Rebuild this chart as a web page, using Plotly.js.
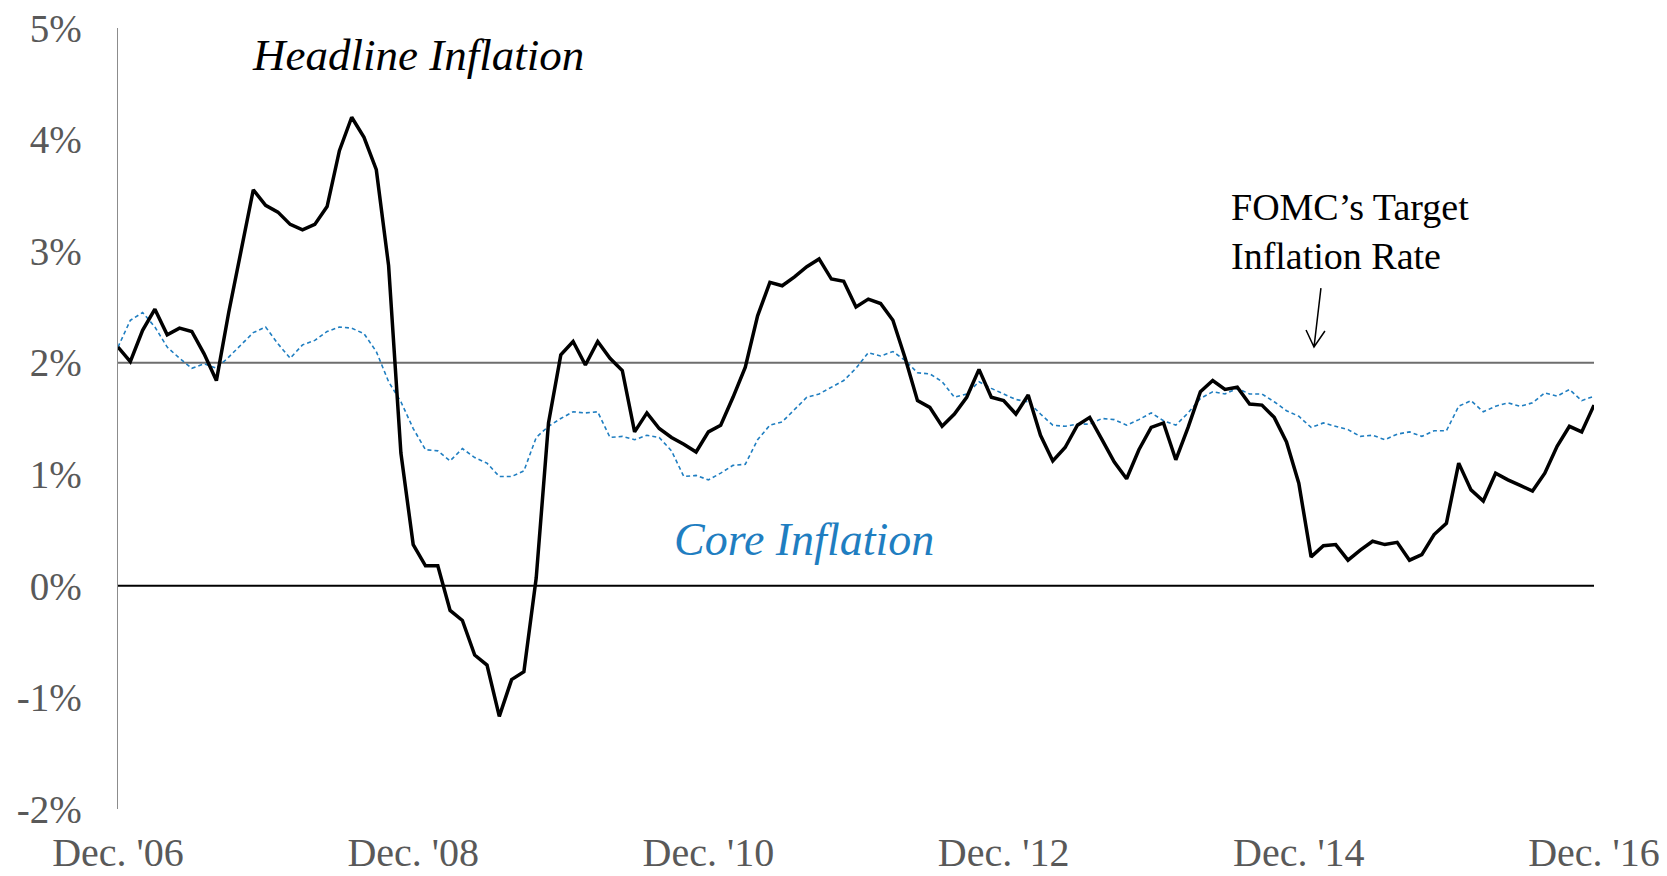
<!DOCTYPE html>
<html>
<head>
<meta charset="utf-8">
<script src="https://cdn.plot.ly/plotly-3.0.1.min.js"></script>
<style>
  html, body { margin: 0; padding: 0; background: #fff; }
  #myDiv { width: 1667px; height: 876px; }
</style>
</head>
<body>
<div id="myDiv"></div>
<script>
// monthly, Dec 2006 .. Dec 2016 (year-over-year, %)
var startYear = 2006, startMonth = 11;   // Dec 2006
var nMonths = 121;

var headline = [
  2.14, 2.01, 2.29, 2.48, 2.25, 2.31, 2.28, 2.08, 1.84, 2.45, 3.00, 3.55,
  3.41, 3.35, 3.24, 3.19, 3.24, 3.40, 3.90, 4.20, 4.02, 3.73, 2.87, 1.19,
  0.37, 0.18, 0.18, -0.22, -0.31, -0.62, -0.71, -1.17, -0.84, -0.77, 0.07, 1.46,
  2.07, 2.19, 1.98, 2.19, 2.04, 1.93, 1.38, 1.55, 1.41, 1.33, 1.27, 1.20,
  1.38, 1.44, 1.69, 1.96, 2.42, 2.72, 2.69, 2.77, 2.86, 2.93, 2.75, 2.73,
  2.50, 2.57, 2.53, 2.38, 2.04, 1.66, 1.60, 1.43, 1.54, 1.69, 1.94, 1.69,
  1.66, 1.54, 1.71, 1.35, 1.12, 1.24, 1.44, 1.51, 1.31, 1.11, 0.96, 1.22,
  1.42, 1.46, 1.13, 1.42, 1.74, 1.84, 1.76, 1.78, 1.63, 1.62, 1.51, 1.29,
  0.92, 0.26, 0.36, 0.37, 0.23, 0.32, 0.40, 0.37, 0.39, 0.23, 0.28, 0.46,
  0.56, 1.10, 0.86, 0.76, 1.01, 0.95, 0.90, 0.85, 1.01, 1.25, 1.43, 1.38,
  1.62
];

var core = [
  2.14, 2.38, 2.45, 2.32, 2.14, 2.04, 1.95, 1.99, 1.95, 2.05, 2.16, 2.27,
  2.32, 2.17, 2.04, 2.16, 2.20, 2.28, 2.32, 2.31, 2.26, 2.10, 1.83, 1.65,
  1.41, 1.22, 1.21, 1.12, 1.23, 1.15, 1.10, 0.98, 0.98, 1.03, 1.33, 1.43,
  1.50, 1.56, 1.55, 1.56, 1.33, 1.34, 1.31, 1.35, 1.33, 1.21, 0.98, 0.99,
  0.95, 1.01, 1.08, 1.09, 1.31, 1.44, 1.47, 1.58, 1.69, 1.72, 1.78, 1.84,
  1.95, 2.09, 2.06, 2.10, 2.02, 1.91, 1.90, 1.83, 1.69, 1.72, 1.83, 1.77,
  1.72, 1.67, 1.65, 1.54, 1.44, 1.43, 1.45, 1.45, 1.50, 1.49, 1.44, 1.49,
  1.55, 1.48, 1.44, 1.55, 1.68, 1.74, 1.72, 1.77, 1.72, 1.72, 1.65, 1.57,
  1.52, 1.42, 1.46, 1.43, 1.40, 1.34, 1.35, 1.31, 1.36, 1.38, 1.34, 1.39,
  1.39, 1.61, 1.66, 1.56, 1.61, 1.64, 1.61, 1.64, 1.73, 1.70, 1.76, 1.66,
  1.70
];

var tickMonths = ['Dec 2006', 'Dec 2008', 'Dec 2010', 'Dec 2012', 'Dec 2014', 'Dec 2016'];
var tickLabels = ["Dec. '06", "Dec. '08", "Dec. '10", "Dec. '12", "Dec. '14", "Dec. '16"];
var yTicks = [-2, -1, 0, 1, 2, 3, 4, 5];
var yTickLabels = ['-2%', '-1%', '0%', '1%', '2%', '3%', '4%', '5%'];
var targetRate = 2;

var monthNames = ['Jan','Feb','Mar','Apr','May','Jun','Jul','Aug','Sep','Oct','Nov','Dec'];
var months = [];
for (var i = 0; i < nMonths; i++) {
  var m = (startMonth + i) % 12;
  var y = startYear + Math.floor((startMonth + i) / 12);
  months.push(monthNames[m] + ' ' + y);
}

var serif = 'Liberation Serif, Times New Roman, serif';

var headlineTrace = {
  x: months,
  y: headline,
  type: 'scatter',
  mode: 'lines',
  name: 'Headline Inflation',
  line: { color: '#000000', width: 3.5 }
};

var coreTrace = {
  x: months,
  y: core,
  type: 'scatter',
  mode: 'lines',
  name: 'Core Inflation',
  line: { color: '#1f7ec1', width: 1.6, dash: '4px,3px' }
};

var layout = {
  width: 1667,
  height: 876,
  margin: { l: 118, r: 73, t: 28, b: 67 },
  paper_bgcolor: '#ffffff',
  plot_bgcolor: '#ffffff',
  showlegend: false,
  hovermode: false,
  font: { family: serif, color: '#595959' },
  xaxis: {
    type: 'category',
    range: [0, nMonths - 1],
    tickvals: tickMonths,
    ticktext: tickLabels,
    tickfont: { size: 40, color: '#595959' },
    showgrid: false,
    zeroline: false,
    showline: false,
    ticks: '',
    ticklabelstandoff: 16
  },
  yaxis: {
    range: [-2, 5],
    tickvals: yTicks,
    ticktext: yTickLabels,
    tickfont: { size: 39, color: '#595959' },
    showgrid: false,
    zeroline: false,
    showline: true,
    linecolor: '#8c8c8c',
    linewidth: 1.5,
    ticks: '',
    ticklabelstandoff: 27
  },
  shapes: [
    { type: 'line', xref: 'paper', x0: 0, x1: 1, yref: 'y', y0: targetRate, y1: targetRate,
      line: { color: '#6e6e6e', width: 2 }, layer: 'below' },
    { type: 'line', xref: 'paper', x0: 0, x1: 1, yref: 'y', y0: 0, y1: 0,
      line: { color: '#000000', width: 2 }, layer: 'below' },
    { type: 'path', xref: 'paper', yref: 'paper',
      path: 'M 0.815 0.667 L 0.8103 0.5915 M 0.8049 0.6133 L 0.8103 0.5915 L 0.8177 0.612',
      line: { color: '#000000', width: 1.5 } }
  ],
  annotations: [
    { text: '<i>Headline Inflation</i>', xref: 'paper', yref: 'paper', x: 0.203, y: 0.965,
      xanchor: 'center', yanchor: 'middle', showarrow: false,
      font: { family: serif, size: 45, color: '#000000' } },
    { text: '<i>Core Inflation</i>', xref: 'paper', yref: 'paper', x: 0.465, y: 0.345,
      xanchor: 'center', yanchor: 'middle', showarrow: false,
      font: { family: serif, size: 46, color: '#1f7ec1' } },
    { text: 'FOMC\u2019s Target<br>Inflation Rate', xref: 'paper', yref: 'paper', x: 0.7527, y: 0.739,
      xanchor: 'left', yanchor: 'middle', align: 'left', showarrow: false,
      font: { family: serif, size: 38, color: '#000000' } }
  ]
};

Plotly.newPlot('myDiv', [coreTrace, headlineTrace], layout, { displayModeBar: false, staticPlot: true });
</script>
</body>
</html>
